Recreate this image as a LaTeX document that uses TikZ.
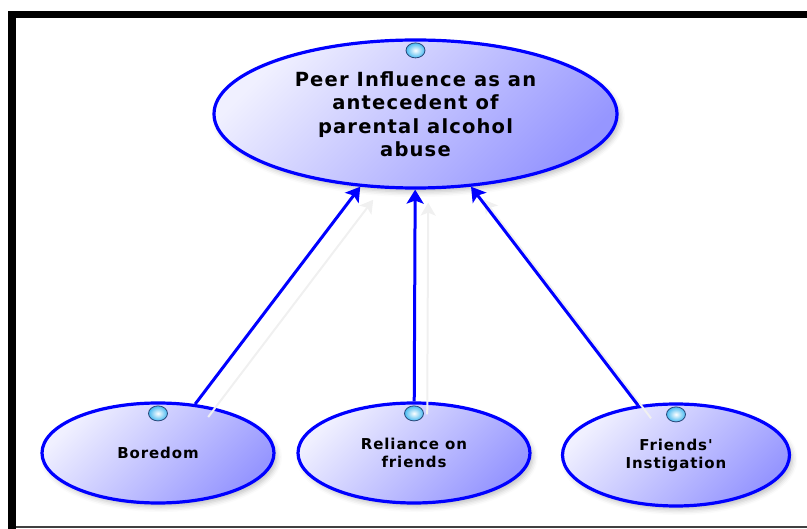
\documentclass[tikz,border=0pt]{standalone}
\usepackage{fontspec}
\newfontfamily\labfont{DejaVu Sans}[LetterSpace=6, Ligatures=TeXOff]
\usetikzlibrary{shapes.geometric,arrows.meta,shadows.blur}

\definecolor{edgeblue}{RGB}{0,0,255}
\definecolor{bubblelight}{RGB}{240,240,255}
\definecolor{bubbledark}{RGB}{150,150,255}
\definecolor{dotrim}{RGB}{40,70,120}
\definecolor{dotfill}{RGB}{70,185,240}
\definecolor{ghost}{RGB}{240,240,240}

\begin{document}
\begin{tikzpicture}[x=1pt,y=-1pt,
  bubble/.style={ellipse, draw=edgeblue, line width=3.2pt,
    top color=bubblelight, bottom color=bubbledark, shading angle=45,
    align=center, inner sep=0pt, text=black,
    blur shadow={shadow xshift=3pt, shadow yshift=-4pt,
      shadow opacity=25, shadow blur radius=5pt}},
  bigtext/.style={font=\labfont\bfseries\fontsize{19.5}{23.5}\selectfont},
  smalltext/.style={font=\labfont\bfseries\fontsize{15}{18}\selectfont},
  knob/.style={ellipse, inner sep=0pt, minimum width=19pt, minimum height=15pt,
    draw=dotrim, line width=0.8pt, inner color=white, outer color=dotfill},
  link/.style={draw=edgeblue, line width=3pt,
    -{Stealth[length=14pt,width=17pt,inset=3pt]}},
  linkghost/.style={draw=ghost, line width=2pt,
    -{Stealth[length=13pt,width=15pt,inset=3pt]},
    transform canvas={shift={(13pt,-13pt)}}},
]
\useasboundingbox (0,0) rectangle (807,529);

% frame
\fill[black] (8,11) rectangle (807,18);
\fill[black] (8,11) rectangle (16,529);
\draw[line width=1.5pt, black!75] (16,527) -- (807,527);

% bubbles
\node[bubble, bigtext, minimum width=403pt, minimum height=148pt] (main) at (415.5,114)
  {Peer Influence as an\\antecedent of\\parental alcohol\\abuse};
\node[bubble, smalltext, minimum width=232pt, minimum height=100pt] (bore) at (158,453)
  {Boredom};
\node[bubble, smalltext, minimum width=232pt, minimum height=100pt] (rely) at (414,453)
  {Reliance on\\friends};
\node[bubble, smalltext, minimum width=227pt, minimum height=102pt] (insti) at (676,455)
  {Friends'\\Instigation};

% connection knobs
\node[knob] (kmain) at ([yshift=-12pt]main.north) {};
\node[knob] (kbore) at ([yshift=-12pt]bore.north) {};
\node[knob] (krely) at ([yshift=-12pt]rely.north) {};
\node[knob] (kinsti) at ([yshift=-12pt]insti.north) {};

% faint arrow shadows
\draw[linkghost] (bore) -- (main);
\draw[linkghost] (rely) -- (main);
\draw[linkghost] (insti) -- (main);

% arrows
\draw[link] (bore) -- (main);
\draw[link] (rely) -- (main);
\draw[link] (insti) -- (main);
\end{tikzpicture}
\end{document}
